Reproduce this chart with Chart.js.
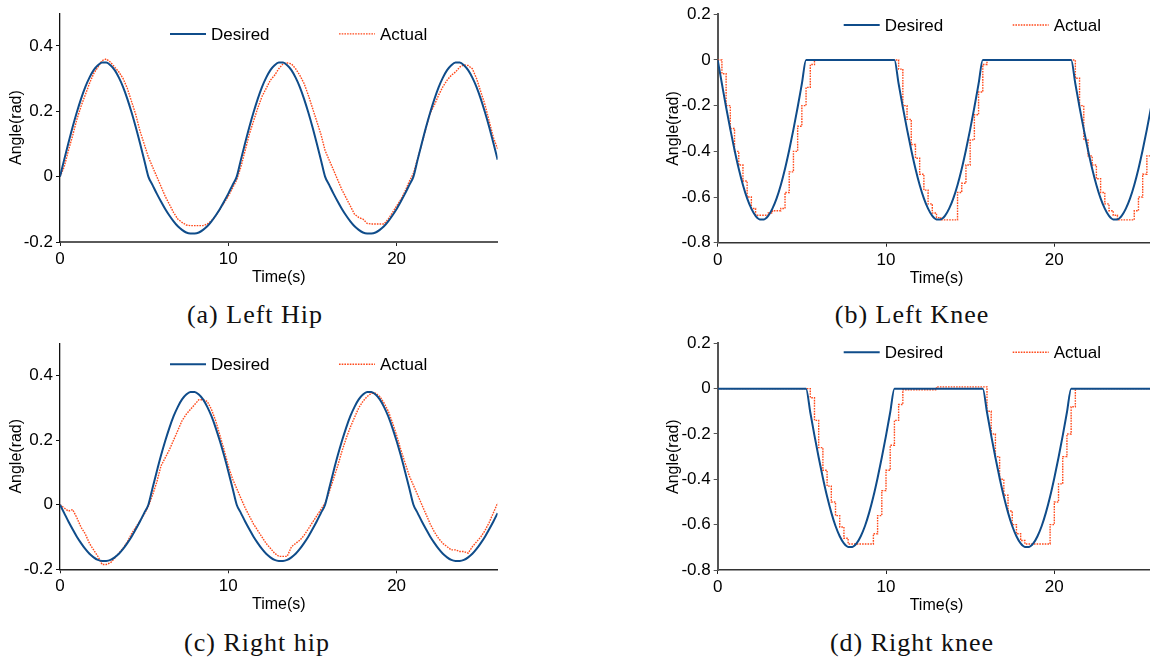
<!DOCTYPE html>
<html>
<head>
<meta charset="utf-8">
<title>Joint angles</title>
<script src="https://cdn.jsdelivr.net/npm/chart.js@4.4.1/dist/chart.umd.min.js"></script>
<style>
  html, body { margin: 0; padding: 0; background: #fff; overflow: hidden; }
  body { position: relative; width: 1150px; height: 658px; }
  canvas { position: absolute; }
  .caption {
    position: absolute; width: 400px; text-align: center;
    font-family: "Liberation Serif", "Times New Roman", serif;
    font-size: 26px; line-height: 30px; letter-spacing: 1px; color: #111;
  }
</style>
</head>
<body>
<canvas id="leftHip" width="575" height="290" style="left:0;top:0"></canvas>
<canvas id="leftKnee" width="520" height="290" style="left:640px;top:0"></canvas>
<canvas id="rightHip" width="575" height="290" style="left:0;top:330px"></canvas>
<canvas id="rightKnee" width="520" height="290" style="left:640px;top:330px"></canvas>
<div class="caption" style="left:55px;top:300px">(a) Left Hip</div>
<div class="caption" style="left:712px;top:300px">(b) Left Knee</div>
<div class="caption" style="left:57px;top:628px">(c) Right hip</div>
<div class="caption" style="left:712px;top:628px">(d) Right knee</div>
<script>
// sample times (s)
var timeSec = [
  0, 0.25, 0.5, 0.75, 1, 1.25, 1.5, 1.75, 2, 2.25, 2.5, 2.75,
  3, 3.25, 3.5, 3.75, 4, 4.25, 4.5, 4.75, 5, 5.25, 5.5, 5.75,
  6, 6.25, 6.5, 6.75, 7, 7.25, 7.5, 7.75, 8, 8.25, 8.5, 8.75,
  9, 9.25, 9.5, 9.75, 10, 10.25, 10.5, 10.75, 11, 11.25, 11.5, 11.75,
  12, 12.25, 12.5, 12.75, 13, 13.25, 13.5, 13.75, 14, 14.25, 14.5, 14.75,
  15, 15.25, 15.5, 15.75, 16, 16.25, 16.5, 16.75, 17, 17.25, 17.5, 17.75,
  18, 18.25, 18.5, 18.75, 19, 19.25, 19.5, 19.75, 20, 20.25, 20.5, 20.75,
  21, 21.25, 21.5, 21.75, 22, 22.25, 22.5, 22.75, 23, 23.25, 23.5, 23.75,
  24, 24.25, 24.5, 24.75, 25, 25.25, 25.5, 25.75, 26
];

var leftHipDesired = [
  0, .052, .103, .152, .197, .238, .274, .303, .326, .341, .349, .349,
  .341, .326, .303, .274, .238, .197, .152, .103, .052, 0, -.026, -.052,
  -.076, -.099, -.119, -.137, -.152, -.163, -.171, -.174, -.174, -.171, -.163, -.152,
  -.137, -.119, -.099, -.076, -.052, -.026, 0, .052, .103, .152, .197, .238,
  .274, .303, .326, .341, .349, .349, .341, .326, .303, .274, .238, .197,
  .152, .103, .052, 0, -.026, -.052, -.076, -.099, -.119, -.137, -.152, -.163,
  -.171, -.174, -.174, -.171, -.163, -.152, -.137, -.119, -.099, -.076, -.052, -.026,
  0, .052, .103, .152, .197, .238, .274, .303, .326, .341, .349, .349,
  .341, .326, .303, .274, .238, .197, .152, .103, .052
];
var leftHipActual = [
  0, 0.03, 0.08, 0.125, 0.175, 0.215, 0.25, 0.285, 0.315, 0.335, 0.355, 0.36,
  0.35, 0.335, 0.32, 0.30, 0.27, 0.23, 0.19, 0.14, 0.10, 0.06, 0.03, 0.0,
  -0.03, -0.06, -0.085, -0.11, -0.13, -0.14, -0.148, -0.15, -0.15, -0.15, -0.15, -0.145,
  -0.135, -0.12, -0.10, -0.08, -0.06, -0.035, -0.01, 0.03, 0.08, 0.13, 0.17, 0.21,
  0.245, 0.27, 0.295, 0.31, 0.33, 0.345, 0.348, 0.345, 0.33, 0.31, 0.285, 0.25,
  0.21, 0.17, 0.13, 0.08, 0.05, 0.02, -0.01, -0.04, -0.065, -0.09, -0.115, -0.125,
  -0.13, -0.143, -0.145, -0.145, -0.145, -0.145, -0.13, -0.11, -0.09, -0.07, -0.045, -0.015,
  0.01, 0.055, 0.10, 0.15, 0.195, 0.22, 0.25, 0.275, 0.295, 0.31, 0.32, 0.335,
  0.342, 0.34, 0.33, 0.30, 0.26, 0.22, 0.17, 0.12, 0.085
];

var leftKneeDesired = [
  0, -.104, -.207, -.304, -.394, -.476, -.547, -.606, -.651, -.683, -.698, -.698,
  -.683, -.651, -.606, -.547, -.476, -.394, -.304, -.207, -.104, 0, 0, 0,
  0, 0, 0, 0, 0, 0, 0, 0, 0, 0, 0, 0,
  0, 0, 0, 0, 0, 0, 0, -.104, -.207, -.304, -.394, -.476,
  -.547, -.606, -.651, -.683, -.698, -.698, -.683, -.651, -.606, -.547, -.476, -.394,
  -.304, -.207, -.104, 0, 0, 0, 0, 0, 0, 0, 0, 0,
  0, 0, 0, 0, 0, 0, 0, 0, 0, 0, 0, 0,
  0, -.104, -.207, -.304, -.394, -.476, -.547, -.606, -.651, -.683, -.698, -.698,
  -.683, -.651, -.606, -.547, -.476, -.394, -.304, -.207, -.104
];
var leftKneeActual = [
  0, -0.06, -0.2, -0.3, -0.4, -0.46, -0.53, -0.6, -0.65, -0.68, -0.68, -0.68,
  -0.67, -0.66, -0.66, -0.65, -0.58, -0.49, -0.4, -0.29, -0.2, -0.12, -0.02, 0,
  0, 0, 0, 0, 0, 0, 0, 0, 0, 0, 0, 0,
  0, 0, 0, 0, 0, 0, 0, -0.04, -0.2, -0.26, -0.37, -0.43,
  -0.5, -0.57, -0.63, -0.67, -0.69, -0.7, -0.7, -0.7, -0.7, -0.58, -0.54, -0.46,
  -0.35, -0.24, -0.14, -0.02, 0, 0, 0, 0, 0, 0, 0, 0,
  0, 0, 0, 0, 0, 0, 0, 0, 0, 0, 0, 0,
  0, -0.08, -0.2, -0.35, -0.42, -0.46, -0.52, -0.58, -0.63, -0.66, -0.68, -0.7,
  -0.7, -0.7, -0.7, -0.66, -0.6, -0.5, -0.42, -0.34, -0.26
];

var rightHipDesired = [
  0, -.026, -.052, -.076, -.099, -.119, -.137, -.152, -.163, -.171, -.174, -.174,
  -.171, -.163, -.152, -.137, -.119, -.099, -.076, -.052, -.026, 0, .052, .103,
  .152, .197, .238, .274, .303, .326, .341, .349, .349, .341, .326, .303,
  .274, .238, .197, .152, .103, .052, 0, -.026, -.052, -.076, -.099, -.119,
  -.137, -.152, -.163, -.171, -.174, -.174, -.171, -.163, -.152, -.137, -.119, -.099,
  -.076, -.052, -.026, 0, .052, .103, .152, .197, .238, .274, .303, .326,
  .341, .349, .349, .341, .326, .303, .274, .238, .197, .152, .103, .052,
  0, -.026, -.052, -.076, -.099, -.119, -.137, -.152, -.163, -.171, -.174, -.174,
  -.171, -.163, -.152, -.137, -.119, -.099, -.076, -.052, -.026
];
var rightHipActual = [
  0, -0.01, -0.02, -0.015, -0.04, -0.07, -0.09, -0.12, -0.14, -0.16, -0.185, -0.185,
  -0.18, -0.165, -0.15, -0.135, -0.115, -0.09, -0.07, -0.05, -0.03, -0.005, 0.03, 0.07,
  0.12, 0.145, 0.17, 0.20, 0.23, 0.26, 0.28, 0.295, 0.31, 0.325, 0.325, 0.32,
  0.295, 0.26, 0.215, 0.17, 0.12, 0.08, 0.05, 0.02, -0.01, -0.035, -0.06, -0.08,
  -0.1, -0.12, -0.135, -0.15, -0.16, -0.16, -0.16, -0.13, -0.12, -0.11, -0.095, -0.075,
  -0.055, -0.035, -0.015, 0.005, 0.04, 0.08, 0.12, 0.165, 0.205, 0.24, 0.27, 0.30,
  0.32, 0.335, 0.345, 0.345, 0.335, 0.315, 0.29, 0.255, 0.215, 0.17, 0.13, 0.09,
  0.06, 0.03, 0.0, -0.03, -0.06, -0.085, -0.105, -0.12, -0.13, -0.14, -0.14, -0.145,
  -0.145, -0.15, -0.13, -0.115, -0.10, -0.08, -0.055, -0.025, 0.005
];

var rightKneeDesired = [
  0, 0, 0, 0, 0, 0, 0, 0, 0, 0, 0, 0,
  0, 0, 0, 0, 0, 0, 0, 0, 0, 0, -.104, -.207,
  -.304, -.394, -.476, -.547, -.606, -.651, -.683, -.698, -.698, -.683, -.651, -.606,
  -.547, -.476, -.394, -.304, -.207, -.104, 0, 0, 0, 0, 0, 0,
  0, 0, 0, 0, 0, 0, 0, 0, 0, 0, 0, 0,
  0, 0, 0, 0, -.104, -.207, -.304, -.394, -.476, -.547, -.606, -.651,
  -.683, -.698, -.698, -.683, -.651, -.606, -.547, -.476, -.394, -.304, -.207, -.104,
  0, 0, 0, 0, 0, 0, 0, 0, 0, 0, 0, 0,
  0, 0, 0, 0, 0, 0, 0, 0, 0
];
var rightKneeActual = [
  0, 0, 0, 0, 0, 0, 0, 0, 0, 0, 0, 0,
  0, 0, 0, 0, 0, 0, 0, 0, 0, 0, -0.04, -0.14,
  -0.26, -0.36, -0.43, -0.5, -0.56, -0.61, -0.66, -0.685, -0.685, -0.685, -0.685, -0.685,
  -0.685, -0.64, -0.56, -0.45, -0.36, -0.25, -0.14, -0.07, -0.005, -0.005, -0.005, -0.005,
  -0.005, -0.005, -0.005, -0.005, 0.008, 0.008, 0.008, 0.008, 0.008, 0.008, 0.008, 0.008,
  0.008, 0.008, 0.008, 0.008, -0.1, -0.2, -0.3, -0.4, -0.47, -0.54, -0.6, -0.64,
  -0.67, -0.685, -0.685, -0.685, -0.685, -0.685, -0.685, -0.6, -0.5, -0.42, -0.3, -0.2,
  -0.08, 0, 0, 0, 0, 0, 0, 0, 0, 0, 0, 0,
  0, 0, 0, 0, 0, 0, 0, 0, 0
];

var timeTicks = [0, 10, 20];
var hipTicks = [-0.2, 0, 0.2, 0.4];
var kneeTicks = [-0.8, -0.6, -0.4, -0.2, 0, 0.2];

Chart.defaults.font.family = '"Liberation Sans", Arial, sans-serif';
Chart.defaults.color = '#000';

// legend drawn inside the plot, just under the top edge
var insideLegend = {
  id: 'insideLegend',
  afterDatasetsDraw: function(chart, args, opts) {
    var ctx = chart.ctx, area = chart.chartArea;
    ctx.save();
    ctx.font = '17px "Liberation Sans", Arial, sans-serif';
    ctx.textBaseline = 'middle';
    ctx.fillStyle = '#000';
    chart.data.datasets.forEach(function(ds, i) {
      var x = area.left + opts.left + i * 169;
      var y = area.top + opts.top;
      ctx.beginPath();
      ctx.strokeStyle = ds.borderColor;
      ctx.lineWidth = ds.borderWidth;
      ctx.setLineDash(ds.borderDash || []);
      ctx.moveTo(x, y);
      ctx.lineTo(x + 36, y);
      ctx.stroke();
      ctx.setLineDash([]);
      ctx.fillText(ds.label, x + 41, y + 1);
    });
    ctx.restore();
  }
};

function fixedTicks(list) {
  return function(scale) {
    scale.ticks = list.map(function(v) { return { value: v }; });
  };
}

function drawPanel(id, desired, actual, p) {
  var ctx = document.getElementById(id);
  return new Chart(ctx, {
    type: 'line',
    data: {
      labels: timeSec,
      datasets: [
        { label: 'Desired', data: desired, borderColor: '#0f4c8a', borderWidth: 2,
          cubicInterpolationMode: 'monotone', pointRadius: 0 },
        { label: 'Actual', data: actual, borderColor: '#ff4a1c', borderWidth: 1.4,
          borderDash: [1.6, 1.1], stepped: p.stepped, pointRadius: 0 }
      ]
    },
    plugins: [insideLegend],
    options: {
      responsive: false,
      animation: false,
      devicePixelRatio: 1,
      layout: { padding: { top: p.padTop, right: p.padRight, left: 0, bottom: 0 } },
      plugins: {
        legend: { display: false },
        tooltip: { enabled: false },
        insideLegend: { left: p.legendLeft, top: p.legendTop }
      },
      scales: {
        x: {
          type: 'linear', min: 0, max: 26,
          afterBuildTicks: fixedTicks(timeTicks),
          afterFit: function(s) { s.height = p.xHeight; },
          border: { display: true, color: p.xAxisColor, width: p.xAxisWidth },
          grid: { drawOnChartArea: false, drawTicks: true, tickLength: 4, color: '#222' },
          ticks: { font: { size: 17 }, padding: 3, maxRotation: 0,
                   callback: function(v) { return String(v); } },
          title: { display: true, text: 'Time(s)', font: { size: 16 },
                   padding: { top: 0, bottom: p.xTitlePad } }
        },
        y: {
          min: p.yMin, max: p.yMax,
          afterBuildTicks: fixedTicks(p.yTicks),
          afterFit: function(s) { s.width = p.yWidth; },
          border: { display: true, color: p.yAxisColor, width: p.yAxisWidth },
          grid: { drawOnChartArea: false, drawTicks: true, tickLength: 4, color: p.yAxisColor },
          ticks: { font: { size: 17 }, padding: 3,
                   callback: function(v) { return v === 0 ? '0' : v.toFixed(1); } },
          title: { display: true, text: 'Angle(rad)', font: { size: 16 },
                   padding: { top: p.yTitlePad, bottom: 0 } }
        }
      }
    }
  });
}

drawPanel('leftHip', leftHipDesired, leftHipActual, {
  padTop: 11, padRight: 77.4, xHeight: 48, yWidth: 60,
  yMin: -0.2, yMax: 0.5, yTicks: hipTicks, stepped: false,
  xAxisColor: '#5a5a5a', xAxisWidth: 2, yAxisColor: '#111', yAxisWidth: 1.3,
  xTitlePad: 3, yTitlePad: 7.4, legendLeft: 110, legendTop: 20.7
});
drawPanel('leftKnee', leftKneeDesired, leftKneeActual, {
  padTop: 14.3, padRight: 4.7, xHeight: 47.3, yWidth: 77.7,
  yMin: -0.8, yMax: 0.2, yTicks: kneeTicks, stepped: true,
  xAxisColor: '#333', xAxisWidth: 1.5, yAxisColor: '#555', yAxisWidth: 2,
  xTitlePad: 2.2, yTitlePad: 24, legendLeft: 126, legendTop: 10.7
});
drawPanel('rightHip', rightHipDesired, rightHipActual, {
  padTop: 8.3, padRight: 77.4, xHeight: 50.7, yWidth: 60,
  yMin: -0.2, yMax: 0.5, yTicks: hipTicks, stepped: false,
  xAxisColor: '#222', xAxisWidth: 1.5, yAxisColor: '#111', yAxisWidth: 1.3,
  xTitlePad: 5.5, yTitlePad: 7.4, legendLeft: 110, legendTop: 21
});
drawPanel('rightKnee', rightKneeDesired, rightKneeActual, {
  padTop: 13.3, padRight: 4.7, xHeight: 50, yWidth: 77.7,
  yMin: -0.8, yMax: 0.2, yTicks: kneeTicks, stepped: true,
  xAxisColor: '#333', xAxisWidth: 1.5, yAxisColor: '#555', yAxisWidth: 2,
  xTitlePad: 4.5, yTitlePad: 24, legendLeft: 126, legendTop: 9
});
</script>
</body>
</html>
